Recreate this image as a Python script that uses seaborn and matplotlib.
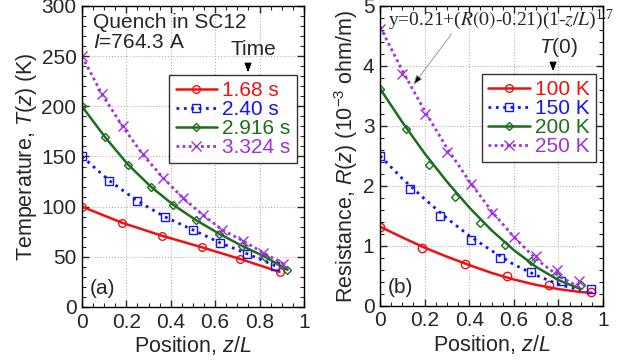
import numpy as np
import pandas as pd
import matplotlib
matplotlib.use('Agg')
import matplotlib.pyplot as plt
from matplotlib.lines import Line2D
from matplotlib.ticker import MultipleLocator, FuncFormatter
import seaborn as sns

# ==================== data ====================
# (a) temperature profiles, T(z) in K
a_labels = ['1.68 s', '2.40 s', '2.916 s', '3.324 s']
a_z_red = [0, 0.18, 0.36, 0.54, 0.71, 0.89]
a_T_red = [100, 84, 71, 59.5, 48, 35]
a_z_blue = [0, 0.123, 0.247, 0.372, 0.498, 0.622, 0.745, 0.871]
a_T_blue = [150, 126, 106, 90, 77, 64, 53, 41]
a_z_green = [0, 0.105, 0.207, 0.31, 0.41, 0.514, 0.618, 0.72, 0.825, 0.925]
a_T_green = [200, 169, 142, 120, 102, 86.5, 73, 61, 50, 37]
a_z_purple = [0, 0.09, 0.183, 0.274, 0.364, 0.453, 0.543, 0.631, 0.724, 0.817, 0.907]
a_T_purple = [250, 212, 180, 152, 129, 109, 92, 77, 66, 54, 43]

# (b) resistance profiles, R(z) in 1e-3 ohm/m  (markers = data, lines = fit)
b_labels = ['100 K', '150 K', '200 K', '250 K']
b_z_red = [0, 0.19, 0.379, 0.57, 0.758, 0.948]
b_R_red = [1.32, 0.97, 0.70, 0.49, 0.34, 0.235]
b_z_blue = [0, 0.134, 0.269, 0.406, 0.54, 0.676, 0.812, 0.947]
b_R_blue = [2.50, 1.95, 1.49, 1.09, 0.80, 0.57, 0.41, 0.285]
b_z_green = [0, 0.115, 0.221, 0.337, 0.448, 0.561, 0.676, 0.791, 0.903]
b_R_green = [3.62, 2.94, 2.34, 1.82, 1.38, 1.02, 0.74, 0.51, 0.35]
b_z_purple = [0, 0.1, 0.201, 0.301, 0.407, 0.5, 0.6, 0.699, 0.794, 0.893]
b_R_purple = [4.62, 3.87, 3.20, 2.56, 2.03, 1.54, 1.14, 0.83, 0.59, 0.42]

fit_z = [0, 0.1, 0.2, 0.3, 0.4, 0.5, 0.6, 0.7, 0.8, 0.9, 0.95]
fit_R_red = [1.32, 1.14, 0.97, 0.82, 0.68, 0.55, 0.44, 0.35, 0.28, 0.23, 0.22]
fit_R_blue = [2.50, 2.12, 1.78, 1.46, 1.17, 0.92, 0.69, 0.51, 0.36, 0.26]
fit_R_green = [3.62, 3.06, 2.54, 2.07, 1.64, 1.26, 0.93, 0.65, 0.43, 0.28]
fit_R_purple = [4.65, 3.92, 3.25, 2.63, 2.08, 1.58, 1.15, 0.78, 0.50, 0.30]

# ==================== style ====================
sns.set_style('ticks')
plt.rcParams['font.family'] = ['Liberation Sans', 'DejaVu Sans']
plt.rcParams['mathtext.fontset'] = 'custom'
plt.rcParams['mathtext.rm'] = 'Liberation Sans'
plt.rcParams['mathtext.it'] = 'Liberation Sans:italic'
plt.rcParams['mathtext.default'] = 'regular'

colors = ['#ee1111', '#1515ee', '#1c6e1c', '#a030e0']
styles = ['-', ':', '-', (0, (1, 1.2))]
markers = ['o', 's', 'D', 'x']
msizes = [5.5, 5.5, 4, 6.5]
lws = [1.8, 2.0, 1.8, 2.0]

fig = plt.figure(figsize=(6.21, 3.62), dpi=100)
ax1 = fig.add_axes([0.132, 0.152, 0.3575, 0.8315])
ax2 = fig.add_axes([0.612, 0.155, 0.359, 0.829])


def style_axes(ax, ymax, ymajor, yminor):
    ax.set_xlim(0, 1)
    ax.set_ylim(0, ymax)
    ax.xaxis.set_major_locator(MultipleLocator(0.2))
    ax.xaxis.set_minor_locator(MultipleLocator(0.05))
    ax.yaxis.set_major_locator(MultipleLocator(ymajor))
    ax.yaxis.set_minor_locator(MultipleLocator(yminor))
    ax.xaxis.set_major_formatter(FuncFormatter(lambda v, p: '%g' % round(v, 2)))
    ax.yaxis.set_major_formatter(FuncFormatter(lambda v, p: '%g' % round(v, 2)))
    ax.tick_params(which='both', direction='in', top=True, right=True, labelsize=15, pad=4)
    ax.tick_params(which='major', length=5, width=1)
    ax.tick_params(which='minor', length=3, width=0.8)
    ax.grid(True, which='major', color='0.7', ls=':', lw=0.8)
    for s in ax.spines.values():
        s.set_linewidth(1.0)
        s.set_color('black')
        s.set_visible(True)
    ax.set_xlabel(r'Position, $\mathit{z/L}$', fontsize=15.5, labelpad=2)


def legend_handles():
    return [Line2D([], [], color=c, ls=ls, lw=lw, marker=m, ms=ms, mfc='none', mec=c, mew=1.0)
            for c, ls, lw, m, ms in zip(colors, styles, lws, markers, msizes)]


# ==================== (a) ====================
a_sets = [(a_z_red, a_T_red), (a_z_blue, a_T_blue), (a_z_green, a_T_green), (a_z_purple, a_T_purple)]
for (z, T), c, ls, lw, m, ms in zip(a_sets, colors, styles, lws, markers, msizes):
    sns.lineplot(x=z, y=T, ax=ax1, color=c, linestyle=ls, lw=lw, marker=m, ms=ms,
                 mfc='none', mec=c, mew=1.0, sort=False, estimator=None)
style_axes(ax1, 300, 50, 10)
ax1.set_ylabel(r'Temperature, $\mathit{T}$($\mathit{z}$) (K)', fontsize=15.5, labelpad=2)
ax1.text(0.05, 0.975, 'Quench in SC12', transform=ax1.transAxes,
         fontsize=15, va='top', ha='left')
ax1.text(0.05, 0.91, r'$\mathit{I}$=764.3 A', transform=ax1.transAxes,
         fontsize=15, va='top', ha='left')
ax1.text(0.035, 0.03, '(a)', transform=ax1.transAxes, fontsize=15, va='bottom', ha='left')
leg1 = ax1.legend(handles=legend_handles(), labels=a_labels, loc='upper right',
                  bbox_to_anchor=(0.968, 0.771), fontsize=15, frameon=True, fancybox=False,
                  handlelength=2.0, handletextpad=0.25, labelspacing=0.0, borderpad=0.3,
                  borderaxespad=0)
leg1.get_frame().set_edgecolor('black')
leg1.get_frame().set_linewidth(1.0)
for t, c in zip(leg1.get_texts(), colors):
    t.set_color(c)
ax1.text(0.77, 0.855, 'Time', transform=ax1.transAxes, fontsize=15, ha='center', va='center')
ax1.annotate('', xy=(0.748, 0.771), xytext=(0.748, 0.80), xycoords='axes fraction',
             arrowprops=dict(arrowstyle='-|>,head_length=0.5,head_width=0.2', color='black', lw=1))

# ==================== (b) ====================
b_sets = [(b_z_red, b_R_red), (b_z_blue, b_R_blue), (b_z_green, b_R_green), (b_z_purple, b_R_purple)]
fits = [fit_R_red, fit_R_blue, fit_R_green, fit_R_purple]
for (z, R), fr, c, ls, lw, m, ms in zip(b_sets, fits, colors, styles, lws, markers, msizes):
    sns.lineplot(x=fit_z[:len(fr)], y=fr, ax=ax2, color=c, linestyle=ls, lw=lw,
                 sort=False, estimator=None)
    sns.lineplot(x=z, y=R, ax=ax2, color=c, linestyle='none', marker=m, ms=ms + 0.5,
                 mfc='none', mec=c, mew=1.0, sort=False, estimator=None)
style_axes(ax2, 5, 1, 0.2)
ax2.set_ylabel(r'Resistance, $\mathit{R}$($\mathit{z}$) (10$^{-3}$ ohm/m)', fontsize=15.5, labelpad=2)
ax2.text(0.035, 0.03, '(b)', transform=ax2.transAxes, fontsize=15, va='bottom', ha='left')
leg2 = ax2.legend(handles=legend_handles(), labels=b_labels, loc='upper right',
                  bbox_to_anchor=(0.969, 0.773), fontsize=15, frameon=True, fancybox=False,
                  handlelength=2.0, handletextpad=0.25, labelspacing=0.0, borderpad=0.3,
                  borderaxespad=0)
leg2.get_frame().set_edgecolor('black')
leg2.get_frame().set_linewidth(1.0)
for t, c in zip(leg2.get_texts(), colors):
    t.set_color(c)
ax2.text(0.80, 0.86, r'$\mathit{T}$(0)', transform=ax2.transAxes, fontsize=15, ha='center', va='center')
ax2.annotate('', xy=(0.776, 0.773), xytext=(0.776, 0.805), xycoords='axes fraction',
             arrowprops=dict(arrowstyle='-|>,head_length=0.5,head_width=0.2', color='black', lw=1))

ax2.text(0.036, 4.77, r'y=0.21+($\mathit{R(0)}$-0.21)(1-$\mathit{z/L}$)$^{1.7}$',
         fontsize=14, family='Liberation Serif', math_fontfamily='stix',
         ha='left', va='center', zorder=5)
ax2.annotate('', xy=(0.142, 3.645), xytext=(0.328, 4.566),
             arrowprops=dict(arrowstyle='-|>,head_length=0.6,head_width=0.22',
                             fc='black', ec='0.55', lw=0.6))

fig.savefig('out.png', dpi=100, facecolor='white')
